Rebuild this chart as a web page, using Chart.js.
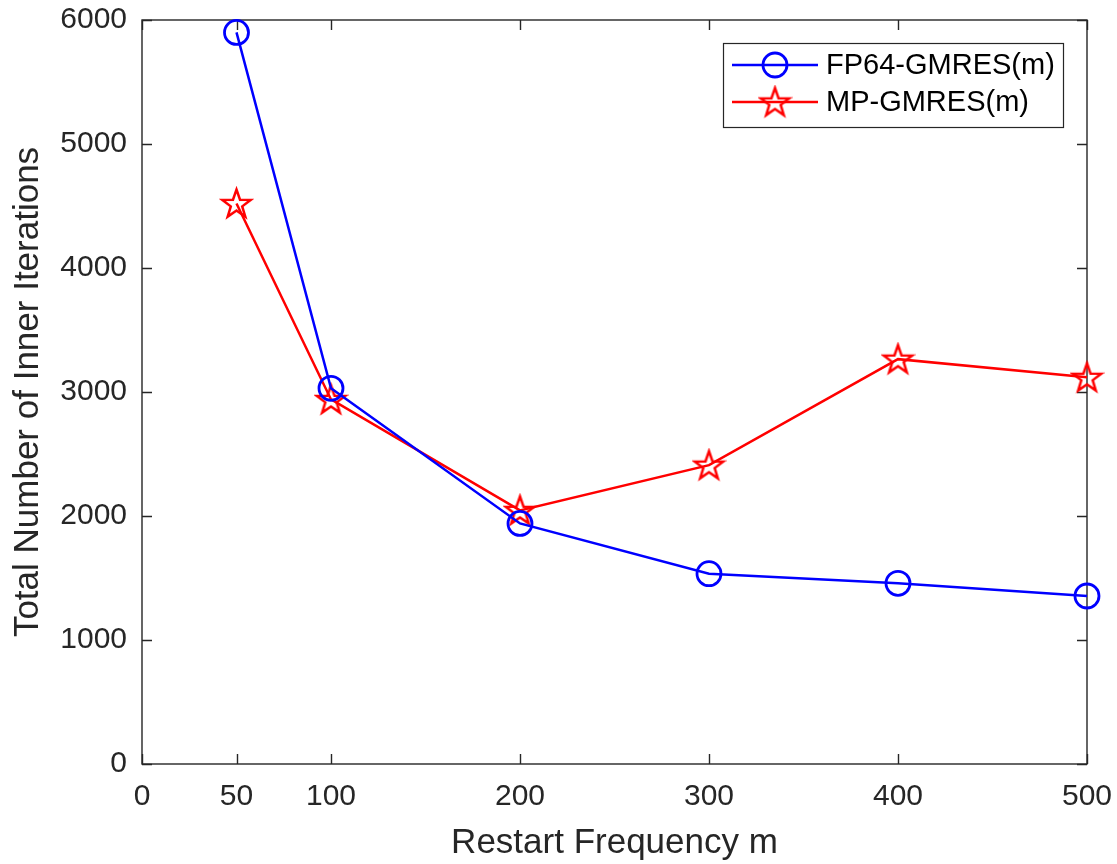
<!DOCTYPE html>
<html><head><meta charset="utf-8">
<script src="https://cdn.jsdelivr.net/npm/chart.js@4.4.0/dist/chart.umd.min.js"></script>
<style>html,body{margin:0;padding:0;background:#fff;}</style>
</head><body>
<canvas id="c" width="1117" height="864" style="display:block;width:1117px;height:864px"></canvas>
<script>
const restartFreq = [50, 100, 200, 300, 400, 500];
const fp64Iters = [5900, 3030, 1940, 1535, 1457, 1355];
const mpIters = [4520, 2940, 2045, 2410, 3265, 3118];
const xTickValues = [0, 50, 100, 200, 300, 400, 500];
const yTickValues = [0, 1000, 2000, 3000, 4000, 5000, 6000];
const seriesNames = ['FP64-GMRES(m)', 'MP-GMRES(m)'];
const axisTitles = ['Restart Frequency m', 'Total Number of Inner Iterations'];

const FONT = "'Liberation Sans', Arial, sans-serif";
const TEXT = '#262626';

function makeStar(R, r, color, lw) {
  const size = Math.ceil(2 * R + lw + 2);
  const c = document.createElement('canvas');
  c.width = size; c.height = size;
  const g = c.getContext('2d');
  g.translate(size / 2, size / 2 + 1);
  g.beginPath();
  for (let i = 0; i < 10; i++) {
    const rad = i % 2 === 0 ? R : r;
    const ang = -Math.PI / 2 + i * Math.PI / 5;
    g.lineTo(rad * Math.cos(ang), rad * Math.sin(ang));
  }
  g.closePath();
  g.strokeStyle = color; g.lineWidth = lw; g.lineJoin = 'miter';
  g.stroke();
  return c;
}
const starImg = makeStar(15, 6, '#ff0000', 2.5);

const boxPlugin = {
  id: 'boxPlugin',
  beforeDatasetsDraw(chart) {
    const { ctx, chartArea: a, scales: { x, y } } = chart;
    ctx.save();
    ctx.strokeStyle = TEXT;
    ctx.lineWidth = 1.4;
    ctx.strokeRect(a.left, a.top, a.right - a.left, a.bottom - a.top);
    const tl = 10;
    ctx.beginPath();
    xTickValues.forEach(v => {
      const px = Math.round(x.getPixelForValue(v)) + 0.5;
      ctx.moveTo(px, a.bottom); ctx.lineTo(px, a.bottom - tl);
      ctx.moveTo(px, a.top); ctx.lineTo(px, a.top + tl);
    });
    yTickValues.forEach(v => {
      const py = Math.round(y.getPixelForValue(v)) + 0.5;
      ctx.moveTo(a.left, py); ctx.lineTo(a.left + tl, py);
      ctx.moveTo(a.right, py); ctx.lineTo(a.right - tl, py);
    });
    ctx.stroke();
    ctx.restore();
  },
  afterDraw(chart) {
    const { ctx } = chart;
    const bx = 723, by = 43, bw = 340, bh = 84;
    ctx.save();
    ctx.fillStyle = '#ffffff';
    ctx.fillRect(bx, by, bw, bh);
    ctx.strokeStyle = TEXT;
    ctx.lineWidth = 1.2;
    ctx.strokeRect(bx + 0.5, by + 0.5, bw, bh);
    const rows = [65, 102];
    chart.data.datasets.forEach((ds, i) => {
      const yy = rows[i];
      ctx.strokeStyle = ds.borderColor;
      ctx.lineWidth = ds.borderWidth;
      ctx.beginPath(); ctx.moveTo(732, yy); ctx.lineTo(818, yy); ctx.stroke();
      if (ds.pointStyle === 'circle') {
        ctx.lineWidth = ds.pointBorderWidth;
        ctx.beginPath(); ctx.arc(775, yy, ds.pointRadius, 0, Math.PI * 2); ctx.stroke();
      } else {
        ctx.drawImage(ds.pointStyle, 775 - ds.pointStyle.width / 2, yy - ds.pointStyle.height / 2);
      }
      ctx.fillStyle = '#000';
      ctx.font = '29px ' + FONT;
      ctx.textBaseline = 'middle';
      ctx.textAlign = 'left';
      ctx.fillText(ds.label, 826, yy + 1);
    });
    ctx.restore();
  }
};

new Chart(document.getElementById('c'), {
  type: 'line',
  data: {
    datasets: [
      {
        label: seriesNames[0],
        data: restartFreq.map((m, i) => ({ x: m, y: fp64Iters[i] })),
        borderColor: '#0000ff', backgroundColor: 'rgba(0,0,0,0)',
        borderWidth: 2.5, pointStyle: 'circle', pointRadius: 12,
        pointBorderWidth: 2.8, pointBorderColor: '#0000ff', pointBackgroundColor: 'rgba(0,0,0,0)',
        tension: 0, clip: false
      },
      {
        label: seriesNames[1],
        data: restartFreq.map((m, i) => ({ x: m, y: mpIters[i] })),
        borderColor: '#ff0000', backgroundColor: 'rgba(0,0,0,0)',
        borderWidth: 2.5, pointStyle: starImg, pointRadius: 15,
        tension: 0, clip: false
      }
    ]
  },
  options: {
    responsive: false,
    devicePixelRatio: 1,
    animation: false,
    events: [],
    layout: { padding: { left: 0, top: 20, right: 30, bottom: 0 } },
    plugins: { legend: { display: false }, tooltip: { enabled: false } },
    scales: {
      x: {
        type: 'linear', min: 0, max: 500,
        afterBuildTicks: s => { s.ticks = xTickValues.map(v => ({ value: v })); },
        afterFit: s => { s.height = 100; s.paddingLeft = 0; s.paddingRight = 0; },
        grid: { display: false, drawTicks: false },
        border: { display: false },
        ticks: { font: { family: FONT, size: 30 }, color: TEXT, padding: 15, maxRotation: 0, autoSkip: false, callback: v => String(v) },
        title: { display: true, text: axisTitles[0], font: { family: FONT, size: 35 }, color: TEXT, padding: { top: 0, bottom: 0 } }
      },
      y: {
        type: 'linear', min: 0, max: 6000,
        afterBuildTicks: s => { s.ticks = yTickValues.map(v => ({ value: v })); },
        afterFit: s => { s.width = 142; s.paddingTop = 0; s.paddingBottom = 0; },
        grid: { display: false, drawTicks: false },
        border: { display: false },
        ticks: { font: { family: FONT, size: 30 }, color: TEXT, padding: 15, autoSkip: false, callback: v => String(v) },
        title: { display: true, text: axisTitles[1], font: { family: FONT, size: 35 }, color: TEXT, padding: { top: 7, bottom: 0 } }
      }
    }
  },
  plugins: [boxPlugin]
});
</script>
</body></html>
